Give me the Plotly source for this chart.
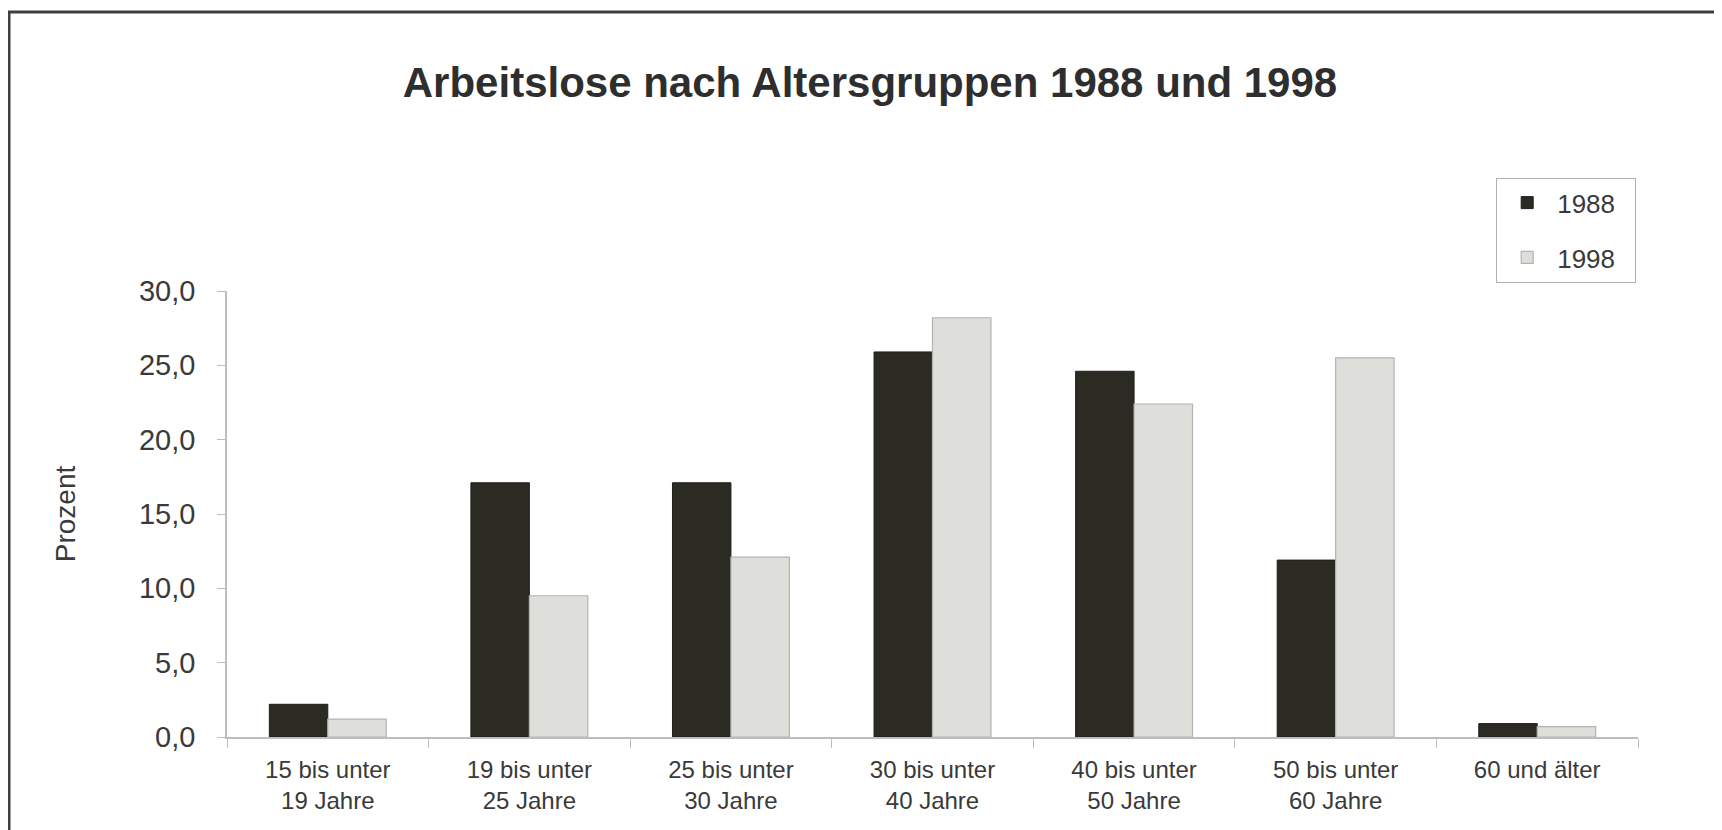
import plotly.graph_objects as go

categories = [
    "15 bis unter<br>19 Jahre",
    "19 bis unter<br>25 Jahre",
    "25 bis unter<br>30 Jahre",
    "30 bis unter<br>40 Jahre",
    "40 bis unter<br>50 Jahre",
    "50 bis unter<br>60 Jahre",
    "60 und älter",
]
values_1988 = [2.2, 17.1, 17.1, 25.9, 24.6, 11.9, 0.9]
values_1998 = [1.2, 9.5, 12.1, 28.2, 22.4, 25.5, 0.7]
series_names = ["1988", "1998"]
y_ticks = [0, 5, 10, 15, 20, 25, 30]
title_text = "Arbeitslose nach Altersgruppen 1988 und 1998"
y_title = "Prozent"

W, H = 1722, 830
OFF = 8  # page body margin offset
L, R, T, B = 227 - OFF, W - (1638 - OFF), 291 - OFF, H - (737 - OFF)
pw, ph = W - L - R, H - T - B


def px_x(x):
    return (x - OFF - L) / pw


def px_y(y):
    return (H - B - (y - OFF)) / ph


FONT = "Liberation Sans, Arial, sans-serif"
TXT = "#3a3a3a"
PAD = "\u00a0\u00a0"  # right padding inside legend box

fig = go.Figure()
fig.add_trace(go.Bar(
    x=categories, y=values_1988, name=series_names[0] + PAD, legendgroup="a",
    marker=dict(color="#2b2b24", line=dict(color="#1e1e1a", width=1)),
))
fig.add_trace(go.Bar(
    x=categories, y=values_1998, name=series_names[1] + PAD, legendgroup="b",
    marker=dict(color="#dededa", line=dict(color="#b4b4b0", width=1.2)),
))

fig.update_layout(
    width=W, height=H,
    margin=dict(l=L, r=R, t=T, b=B, pad=0),
    paper_bgcolor="white", plot_bgcolor="white",
    barmode="group", bargap=0.42, bargroupgap=0,
    separators=", ",
    font=dict(family=FONT, color=TXT),
    title=dict(
        text="<b>" + title_text + "</b>",
        x=(870 - OFF) / W, xref="container", xanchor="center",
        y=1 - (82 - OFF) / H, yref="container", yanchor="middle",
        font=dict(family=FONT, size=42, color="#2e2e2e"),
    ),
    legend=dict(
        x=px_x(1496), y=px_y(178), xanchor="left", yanchor="top",
        bordercolor="#b0b0b0", borderwidth=1.2, bgcolor="white",
        font=dict(family=FONT, size=26, color=TXT),
        tracegroupgap=18, itemwidth=50,
        traceorder="grouped",
    ),
    showlegend=True,
)

fig.update_xaxes(
    showgrid=False, showline=True, linecolor="#bdbdbd", linewidth=1.5,
    ticks="outside", tickson="boundaries", ticklen=9, tickcolor="#bdbdbd", tickwidth=1.2,
    tickfont=dict(family=FONT, size=24, color=TXT),
    tickangle=0, ticklabelstandoff=10,
)
fig.update_yaxes(
    range=[0, 30], tickvals=y_ticks, tickformat=".1f",
    showgrid=False, showline=True, linecolor="#bdbdbd", linewidth=1.5,
    ticks="outside", ticklen=8, tickcolor="#bdbdbd", tickwidth=1.2,
    tickfont=dict(family=FONT, size=29, color=TXT),
    ticklabelstandoff=16,
    zeroline=False,
    title=dict(text=y_title, font=dict(family=FONT, size=28, color=TXT), standoff=55),
)

# outer frame
fig.add_shape(
    type="rect", xref="paper", yref="paper",
    x0=px_x(9), x1=px_x(1717), y0=px_y(845), y1=px_y(12),
    line=dict(color="#3e413b", width=3), fillcolor="rgba(0,0,0,0)", layer="below",
)

fig.write_html("out.html")
